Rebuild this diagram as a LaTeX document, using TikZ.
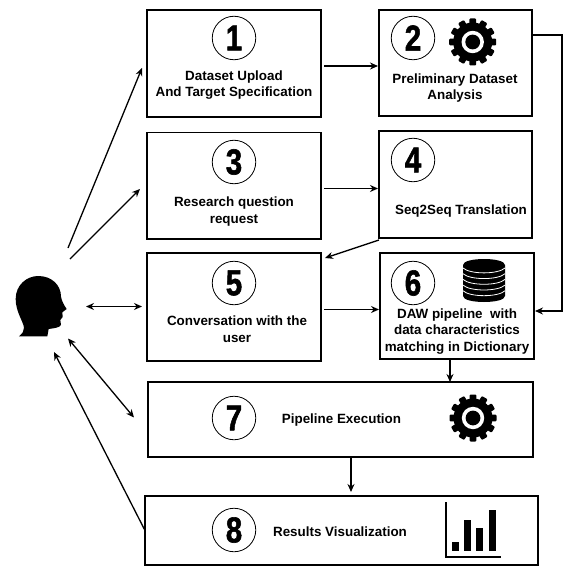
\documentclass[tikz,border=0pt]{standalone}
\usepackage{fontspec}
\setmainfont{Liberation Sans}
\newfontfamily\heavydigits[FakeBold=1.6]{Liberation Sans Bold}
\usetikzlibrary{arrows.meta}
\tikzset{
  box/.style={draw=black,line width=1.7pt,inner sep=0pt,outer sep=0pt,fill=white},
  num/.style={draw=black,line width=0.8pt,circle,minimum size=43.5pt,inner sep=0pt,outer sep=0pt,font=\fontsize{36}{36}\selectfont\heavydigits},
  lab/.style={align=center,inner sep=0pt,font=\fontsize{13.4}{16.5}\selectfont\bfseries},
  arr/.style={line width=1.3pt,-{Stealth[length=8pt,width=7pt]}},
  dbl/.style={line width=1.3pt,{Stealth[length=8pt,width=7pt]}-{Stealth[length=8pt,width=7pt]}}
}
\newcommand{\gearicon}[2]{%
  \begin{scope}[shift={(#1,#2)}]
    \fill[black] (0,0) circle (19.5);
    \foreach \a in {0,30,...,330}{\fill[black,rotate=\a,rounded corners=1pt] (-3.4,17) rectangle (3.4,23.5);}
    \fill[white] (0,0) circle (11.2);
    \fill[black] (0,0) circle (7.4);
  \end{scope}}
\newcommand{\numnode}[4]{\node[num] (#1) at (#2,#3) {\scalebox{0.82}[1]{#4}};}
\begin{document}
\begin{tikzpicture}[x=1pt,y=-1pt]
\useasboundingbox (0,0) rectangle (570,575);
% boxes
\node[box,minimum width=174pt,minimum height=107pt] (b1) at (234,63.5) {};
\node[box,minimum width=153pt,minimum height=106pt] (b2) at (455.5,63) {};
\node[box,minimum width=174pt,minimum height=106.5pt] (b3) at (234,185.75) {};
\node[box,minimum width=153pt,minimum height=107pt] (b4) at (455.5,184.5) {};
\node[box,minimum width=174pt,minimum height=108pt] (b5) at (234,307) {};
\node[box,minimum width=154pt,minimum height=106pt] (b6) at (457,306) {};
\node[box,minimum width=385pt,minimum height=75pt] (b7) at (340.5,419.5) {};
\node[box,minimum width=393pt,minimum height=69pt] (b8) at (341.5,530.5) {};
% numbers
\numnode{n1}{234}{38}{1}
\numnode{n2}{413}{38}{2}
\numnode{n3}{234}{162}{3}
\numnode{n4}{413}{160}{4}
\numnode{n5}{234}{283}{5}
\numnode{n6}{413}{283}{6}
\numnode{n7}{234}{418}{7}
\numnode{n8}{234}{530}{8}
% labels
\node[lab] (t1) at (234,85) {Dataset Upload\\And Target Specification};
\node[lab] (t2) at (455,88) {Preliminary Dataset\\Analysis};
\node[lab] (t3) at (234,211.7) {Research question\\request};
\node[lab] (t4) at (461,211.5) {Seq2Seq Translation};
\node[lab] (t5) at (237,329.3) {Conversation with the\\user};
\node[lab] (t6) at (457,331.3) {DAW pipeline\ \ with\\data characteristics\\matching in Dictionary};
\node[lab] (t7) at (341.5,420.3) {Pipeline Execution};
\node[lab] (t8) at (340,531.3) {Results Visualization};
% gears
\gearicon{472.7}{42}
\gearicon{473}{418}
% database
\fill[black] (463,265) .. controls (463,257) and (505,257) .. (505,265) -- (505,296)
  .. controls (505,304) and (463,304) .. (463,296) -- cycle;
\foreach \yy in {268,273.7,279.4,285.1,290.8}{
  \draw[white,line width=0.8pt] (463,\yy) .. controls (470,\yy+6.5) and (498,\yy+6.5) .. (505,\yy);}
% chart
\draw[black,line width=1.4pt] (446,502) -- (446,557) -- (501,557);
\fill[black] (451.7,541.7) rectangle (458.5,551);
\fill[black] (464.3,520) rectangle (471,551);
\fill[black] (476.3,528.3) rectangle (483.3,551);
\fill[black] (489,510) rectangle (496,551);
% head
\node[inner sep=0pt,minimum width=54pt,minimum height=62pt] (user) at (41,306) {};
\fill[black,x=0.3333pt,y=-0.3333pt,shift={(5pt,-265pt)}]
  (42,214) .. controls (52,205) and (58,198) .. (57,188)
  .. controls (55,170) and (32,140) .. (32,102)
  .. controls (32,60) and (65,33) .. (100,33)
  .. controls (140,33) and (168,60) .. (168,95)
  .. controls (170,108) and (178,122) .. (185,132)
  -- (172,142) -- (173,156) -- (166,165) -- (168,180)
  .. controls (165,188) and (145,190) .. (131,192)
  -- (127,214) -- cycle;
% connectors
\coordinate (p1) at (68,248);
\coordinate (p3) at (70,259);
\draw[arr] (p1) -- ([shift={(-5pt,-4.5pt)}]b1.west);
\draw[arr] (p3) -- ([shift={(-7pt,-3.25pt)}]b3.west);
\draw[dbl] (86,306.5) -- ([shift={(-5pt,0.5pt)}]b5.west);
\coordinate (u7) at (68,338.5);
\coordinate (e7) at (134,417.5);
\draw[dbl] (u7) -- (e7);
\coordinate (u8) at (54,352);
\draw[arr] (b8.west) -- (u8);
\draw[arr] ([shift={(3pt,-2.5pt)}]b1.east) -- ([shift={(-1pt,-3pt)}]b2.west);
\draw[arr] ([shift={(3pt,-2.75pt)}]b3.east) -- ([shift={(-1pt,-4pt)}]b4.west);
\draw[arr] ([shift={(0pt,-2pt)}]b4.south west) -- ([shift={(4pt,-5pt)}]b5.north east);
\draw[arr] ([shift={(3pt,-2.5pt)}]b5.east) -- ([shift={(-1pt,-3.5pt)}]b6.west);
\draw[arr] ([yshift=28pt]b2.east) -- (562,35) -- (562,311) -- ([shift={(1pt,-5pt)}]b6.east);
\draw[arr] ([xshift=-7pt]b6.south) -- ([xshift=109.5pt]b7.north);
\draw[arr] ([xshift=10.5pt]b7.south) -- ([shift={(9.5pt,4pt)}]b8.north);
\end{tikzpicture}
\end{document}
